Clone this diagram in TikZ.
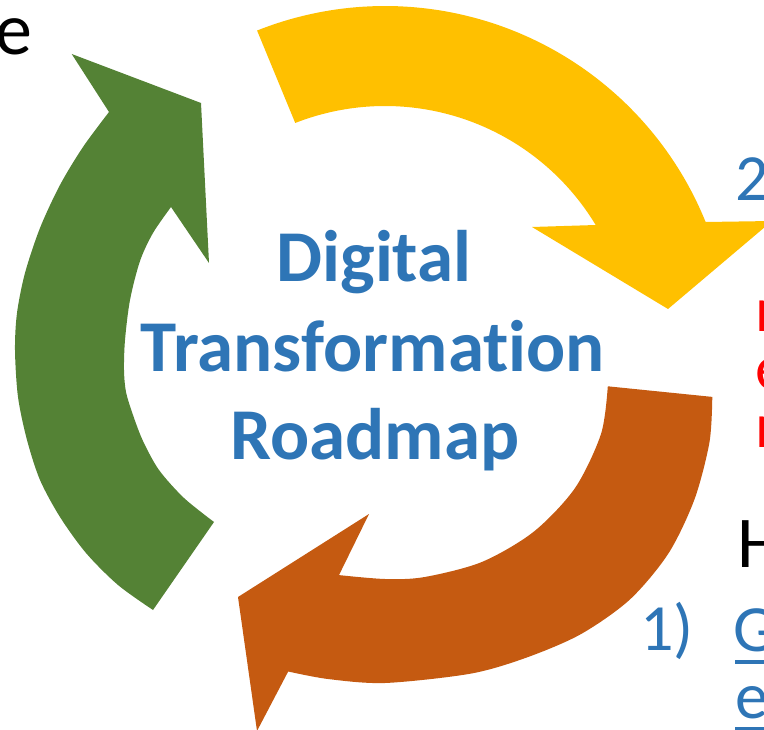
\documentclass[tikz,border=0pt]{standalone}
\usepackage{fontspec}
\setmainfont{Carlito}[Ligatures={NoCommon}]
\definecolor{ygold}{HTML}{FFC000}
\definecolor{ggreen}{HTML}{548235}
\definecolor{oorange}{HTML}{C55A11}
\definecolor{tblue}{HTML}{2E75B6}
\definecolor{tred}{HTML}{FF0000}
\tikzset{
  yellowarrow/.style={fill=ygold},
  greenarrow/.style={fill=ggreen},
  orangearrow/.style={fill=oorange},
  titletext/.style={inner sep=0pt, outer sep=0pt, anchor=base, text=tblue, font=\fontsize{73}{88}\selectfont\bfseries},
  sidetext/.style={inner sep=0pt, outer sep=0pt, anchor=base west},
}
\begin{document}
\begin{tikzpicture}[x=1pt,y=-1pt]
\useasboundingbox (0,0) rectangle (764,730);
\clip (0,0) rectangle (764,730);
% yellow arrow
\fill[yellowarrow] plot[domain=-111.7:-22.07, samples=80] ({385+346*cos(\x)},{352+346*sin(\x)})
  -- (772,221) -- (668,309) -- (532,227)
  -- plot[domain=-31.08:-111.4, samples=80] ({385+246*cos(\x)},{352+246*sin(\x)}) -- cycle;
% green arrow
\fill[greenarrow] (71.7,54) -- (201,103) -- (209,263) -- (171,207)
  -- plot[smooth] coordinates {(171,207) (153,233) (140,261) (130,300) (125,340) (124,370) (126,392) (133,415) (143,441) (159,470) (184,498) (214,522)}
  -- (153,610)
  -- plot[smooth] coordinates {(153,610) (118,585) (86,553) (60,517) (40,480) (27,440) (18,397) (15,350) (17,313) (25,273) (40,228) (60,185) (83,147) (109,112)}
  -- cycle;
% orange arrow
\fill[orangearrow] (712.3,396.9) -- (607.8,386.3)
  -- plot[smooth] coordinates {(607.8,386.3) (601.1,433.7) (575.0,488.1) (533.5,531.9) (481.6,562.1) (424.2,577.1) (385,579) (339.0,575.1)}
  -- (369,514) -- (238,597) -- (257,731) -- (288.2,671.5)
  -- plot[smooth] coordinates {(288.2,671.5) (327.9,679) (385,683) (470.4,673.7) (526.2,657.7) (580.6,634.3) (629.7,599.7) (668.4,553.5) (694.5,499.3) (709.5,442.0) (712.3,396.9)}
  -- cycle;
% title
\node[titletext] (t1) at (374,282) {Digital};
\node[titletext] (t2) at (373,371.5) {Transformation};
\node[titletext] (t3) at (375,460) {Roadmap};
% cut-off side texts
\node[inner sep=0pt, outer sep=0pt, anchor=base east, font=\fontsize{74}{74}\selectfont] (e1) at (32.2,55) {e};
\node[sidetext, text=tblue, font=\fontsize{66}{66}\selectfont] (n2) at (735,201) {2};
\node[sidetext, text=tred, font=\fontsize{64}{64}\selectfont] (r1) at (755.5,332) {n};
\node[sidetext, text=tred, font=\fontsize{64}{64}\selectfont] (r2) at (755.5,389.5) {e};
\node[sidetext, text=tred, font=\fontsize{64}{64}\selectfont] (r3) at (755.5,447) {n};
\node[sidetext, font=\fontsize{73}{73}\selectfont] (h1) at (737.5,567) {H};
\node[sidetext, text=tblue, font=\fontsize{66}{66}\selectfont] (l1) at (640,650) {1)};
\node[sidetext, text=tblue, font=\fontsize{66}{66}\selectfont] (g1) at (733.5,651) {\kern1.5pt\rlap{\rule[-13pt]{40pt}{4pt}}\kern-1.5pt G};
\node[sidetext, text=tblue, font=\fontsize{66}{66}\selectfont] (g2) at (735,718) {\rlap{\rule[-13pt]{40pt}{4pt}}e};
\end{tikzpicture}
\end{document}
